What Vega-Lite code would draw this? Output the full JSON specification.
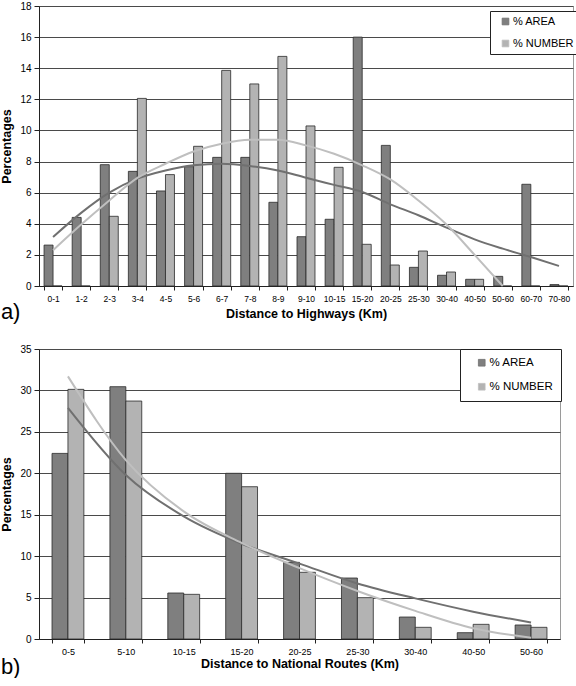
{
  "$schema": "https://vega.github.io/schema/vega-lite/v6.json",
  "background": "white",
  "padding": {"left": 0, "top": 0, "right": 1, "bottom": 0},
  "bounds": "flush",
  "spacing": 63,
  "resolve": {"scale": {"color": "independent", "stroke": "independent", "xOffset": "independent"}, "legend": {"color": "independent", "stroke": "independent"}},
  "config": {
    "font": "Liberation Sans",
    "view": {"stroke": "#9a9a9a", "strokeWidth": 1},
    "axis": {"domainColor": "#222", "tickColor": "#222", "labelColor": "#000", "titleColor": "#000", "labelFont": "Liberation Sans", "titleFont": "Liberation Sans", "titleFontWeight": "bold", "titleFontSize": 12.5, "labelOverlap": false},
    "legend": {"labelFont": "Liberation Sans"}
  },
  "datasets": {
    "highways": [
      {"dist": "0-1", "series": "% AREA", "pct": 2.63, "trend": 3.15},
      {"dist": "0-1", "series": "% NUMBER", "pct": 0, "trend": 2.3},
      {"dist": "1-2", "series": "% AREA", "pct": 4.41, "trend": 4.7},
      {"dist": "1-2", "series": "% NUMBER", "pct": 0, "trend": 3.95},
      {"dist": "2-3", "series": "% AREA", "pct": 7.8, "trend": 6.0},
      {"dist": "2-3", "series": "% NUMBER", "pct": 4.48, "trend": 5.5},
      {"dist": "3-4", "series": "% AREA", "pct": 7.37, "trend": 6.9},
      {"dist": "3-4", "series": "% NUMBER", "pct": 12.06, "trend": 6.95},
      {"dist": "4-5", "series": "% AREA", "pct": 6.11, "trend": 7.43},
      {"dist": "4-5", "series": "% NUMBER", "pct": 7.16, "trend": 7.86},
      {"dist": "5-6", "series": "% AREA", "pct": 7.67, "trend": 7.76},
      {"dist": "5-6", "series": "% NUMBER", "pct": 8.98, "trend": 8.65},
      {"dist": "6-7", "series": "% AREA", "pct": 8.27, "trend": 7.86},
      {"dist": "6-7", "series": "% NUMBER", "pct": 13.86, "trend": 9.15},
      {"dist": "7-8", "series": "% AREA", "pct": 8.27, "trend": 7.72},
      {"dist": "7-8", "series": "% NUMBER", "pct": 12.99, "trend": 9.4},
      {"dist": "8-9", "series": "% AREA", "pct": 5.38, "trend": 7.43},
      {"dist": "8-9", "series": "% NUMBER", "pct": 14.76, "trend": 9.4},
      {"dist": "9-10", "series": "% AREA", "pct": 3.17, "trend": 6.96},
      {"dist": "9-10", "series": "% NUMBER", "pct": 10.29, "trend": 9.04},
      {"dist": "10-15", "series": "% AREA", "pct": 4.29, "trend": 6.5},
      {"dist": "10-15", "series": "% NUMBER", "pct": 7.63, "trend": 8.5},
      {"dist": "15-20", "series": "% AREA", "pct": 16.0, "trend": 6.04},
      {"dist": "15-20", "series": "% NUMBER", "pct": 2.68, "trend": 7.76},
      {"dist": "20-25", "series": "% AREA", "pct": 9.04, "trend": 5.25},
      {"dist": "20-25", "series": "% NUMBER", "pct": 1.35, "trend": 6.85},
      {"dist": "25-30", "series": "% AREA", "pct": 1.2, "trend": 4.55},
      {"dist": "25-30", "series": "% NUMBER", "pct": 2.25, "trend": 5.5},
      {"dist": "30-40", "series": "% AREA", "pct": 0.69, "trend": 3.75},
      {"dist": "30-40", "series": "% NUMBER", "pct": 0.9, "trend": 3.95},
      {"dist": "40-50", "series": "% AREA", "pct": 0.43, "trend": 3.0},
      {"dist": "40-50", "series": "% NUMBER", "pct": 0.43, "trend": 2.0},
      {"dist": "50-60", "series": "% AREA", "pct": 0.62, "trend": 2.4},
      {"dist": "50-60", "series": "% NUMBER", "pct": 0, "trend": 0.0},
      {"dist": "60-70", "series": "% AREA", "pct": 6.54, "trend": 1.86},
      {"dist": "60-70", "series": "% NUMBER", "pct": 0, "trend": null},
      {"dist": "70-80", "series": "% AREA", "pct": 0.09, "trend": 1.29},
      {"dist": "70-80", "series": "% NUMBER", "pct": 0, "trend": null}
    ],
    "routes": [
      {"dist": "0-5", "series": "% AREA", "pct": 22.4, "trend": 27.9},
      {"dist": "0-5", "series": "% NUMBER", "pct": 30.13, "trend": 31.7},
      {"dist": "5-10", "series": "% AREA", "pct": 30.45, "trend": 19.8},
      {"dist": "5-10", "series": "% NUMBER", "pct": 28.72, "trend": 21.6},
      {"dist": "10-15", "series": "% AREA", "pct": 5.55, "trend": 14.8},
      {"dist": "10-15", "series": "% NUMBER", "pct": 5.39, "trend": 15.4},
      {"dist": "15-20", "series": "% AREA", "pct": 20.0, "trend": 11.5},
      {"dist": "15-20", "series": "% NUMBER", "pct": 18.38, "trend": 11.6},
      {"dist": "20-25", "series": "% AREA", "pct": 9.25, "trend": 9.1},
      {"dist": "20-25", "series": "% NUMBER", "pct": 8.05, "trend": 8.55},
      {"dist": "25-30", "series": "% AREA", "pct": 7.36, "trend": 6.7},
      {"dist": "25-30", "series": "% NUMBER", "pct": 4.99, "trend": 5.8},
      {"dist": "30-40", "series": "% AREA", "pct": 2.65, "trend": 4.9},
      {"dist": "30-40", "series": "% NUMBER", "pct": 1.41, "trend": 3.4},
      {"dist": "40-50", "series": "% AREA", "pct": 0.76, "trend": 3.3},
      {"dist": "40-50", "series": "% NUMBER", "pct": 1.77, "trend": 1.3},
      {"dist": "50-60", "series": "% AREA", "pct": 1.69, "trend": 2.0},
      {"dist": "50-60", "series": "% NUMBER", "pct": 1.41, "trend": 0.15}
    ]
  },
  "vconcat": [
    {
      "width": 534,
      "height": 280,
      "data": {"name": "highways"},
      "title": {"text": "a)", "orient": "bottom", "anchor": "start", "frame": "bounds", "fontSize": 22, "fontWeight": "normal", "font": "Liberation Sans", "color": "#000", "offset": -18, "dx": 0},
      "layer": [
        {
          "mark": {"type": "bar", "stroke": "#2a2a2a", "strokeWidth": 0.8},
          "encoding": {
            "x": {"field": "dist", "type": "nominal", "sort": null,
              "scale": {"domain": ["0-1","1-2","2-3","3-4","4-5","5-6","6-7","7-8","8-9","9-10","10-15","15-20","20-25","25-30","30-40","40-50","50-60","60-70","70-80"], "paddingInner": 0.36, "paddingOuter": 0.18},
              "axis": {"title": "Distance to Highways (Km)", "labelAngle": 0, "labelFontSize": 8.5, "tickBand": "extent", "tickSize": 4, "labelPadding": 4, "titlePadding": 5, "grid": false}},
            "xOffset": {"field": "series", "type": "nominal", "sort": ["% AREA", "% NUMBER"]},
            "y": {"field": "pct", "type": "quantitative",
              "scale": {"domain": [0, 18], "nice": false},
              "axis": {"title": "Percentages", "values": [0,2,4,6,8,10,12,14,16,18], "labelFontSize": 10, "tickSize": 5, "labelPadding": 3, "titlePadding": 6, "grid": true, "gridColor": "#4a4a4a", "gridWidth": 1}},
            "color": {"field": "series", "type": "nominal",
              "scale": {"domain": ["% AREA", "% NUMBER"], "range": ["#7f7f7f", "#b3b3b3"]},
              "legend": {"title": null, "orient": "none", "legendX": 451, "legendY": 5, "strokeColor": "#222", "fillColor": "white", "padding": 5, "rowPadding": 10, "symbolType": "square", "symbolSize": 45, "symbolOffset": 5, "symbolStrokeColor": "#333", "symbolStrokeWidth": 0.8, "symbolFillOpacity": 1, "labelFontSize": 11, "labelOffset": 2, "labelColor": "#000"}}
          }
        },
        {
          "transform": [{"filter": "datum.trend != null"}],
          "mark": {"type": "line", "interpolate": "monotone", "strokeWidth": 2},
          "encoding": {
            "x": {"field": "dist", "type": "nominal", "sort": null},
            "y": {"field": "trend", "type": "quantitative",
              "axis": {"title": "Percentages", "values": [0,2,4,6,8,10,12,14,16,18], "labelFontSize": 10, "tickSize": 5, "labelPadding": 3, "titlePadding": 6, "grid": true, "gridColor": "#4a4a4a", "gridWidth": 1}},
            "stroke": {"field": "series", "type": "nominal", "scale": {"domain": ["% AREA", "% NUMBER"], "range": ["#707070", "#bfbfbf"]}, "legend": null}
          }
        }
      ]
    },
    {
      "width": 521,
      "height": 290,
      "data": {"name": "routes"},
      "title": {"text": "b)", "orient": "bottom", "anchor": "start", "frame": "bounds", "fontSize": 22, "fontWeight": "normal", "font": "Liberation Sans", "color": "#000", "offset": -13, "dx": 0},
      "layer": [
        {
          "mark": {"type": "bar", "stroke": "#2a2a2a", "strokeWidth": 0.8},
          "encoding": {
            "x": {"field": "dist", "type": "nominal", "sort": null,
              "scale": {"domain": ["0-5","5-10","10-15","15-20","20-25","25-30","30-40","40-50","50-60"], "paddingInner": 0.45, "paddingOuter": 0.225},
              "axis": {"title": "Distance to National Routes (Km)", "labelAngle": 0, "labelFontSize": 9, "tickBand": "extent", "tickSize": 4, "labelPadding": 4, "titlePadding": 1, "grid": false}},
            "xOffset": {"field": "series", "type": "nominal", "sort": ["% AREA", "% NUMBER"]},
            "y": {"field": "pct", "type": "quantitative",
              "scale": {"domain": [0, 35], "nice": false},
              "axis": {"title": "Percentages", "values": [0,5,10,15,20,25,30,35], "labelFontSize": 10, "tickSize": 5, "labelPadding": 3, "titlePadding": 6, "grid": true, "gridColor": "#4a4a4a", "gridWidth": 1}},
            "color": {"field": "series", "type": "nominal",
              "scale": {"domain": ["% AREA", "% NUMBER"], "range": ["#7f7f7f", "#b3b3b3"]},
              "legend": {"title": null, "orient": "none", "legendX": 421, "legendY": 0, "strokeColor": "#222", "fillColor": "white", "padding": 8, "rowPadding": 11, "symbolType": "square", "symbolSize": 45, "symbolOffset": 8, "symbolStrokeColor": "#333", "symbolStrokeWidth": 0.8, "symbolFillOpacity": 1, "labelFontSize": 11.5, "labelOffset": 2, "labelColor": "#000"}}
          }
        },
        {
          "mark": {"type": "line", "interpolate": "monotone", "strokeWidth": 2},
          "encoding": {
            "x": {"field": "dist", "type": "nominal", "sort": null},
            "y": {"field": "trend", "type": "quantitative",
              "axis": {"title": "Percentages", "values": [0,5,10,15,20,25,30,35], "labelFontSize": 10, "tickSize": 5, "labelPadding": 3, "titlePadding": 6, "grid": true, "gridColor": "#4a4a4a", "gridWidth": 1}},
            "stroke": {"field": "series", "type": "nominal", "scale": {"domain": ["% AREA", "% NUMBER"], "range": ["#707070", "#bfbfbf"]}, "legend": null}
          }
        }
      ]
    }
  ]
}
